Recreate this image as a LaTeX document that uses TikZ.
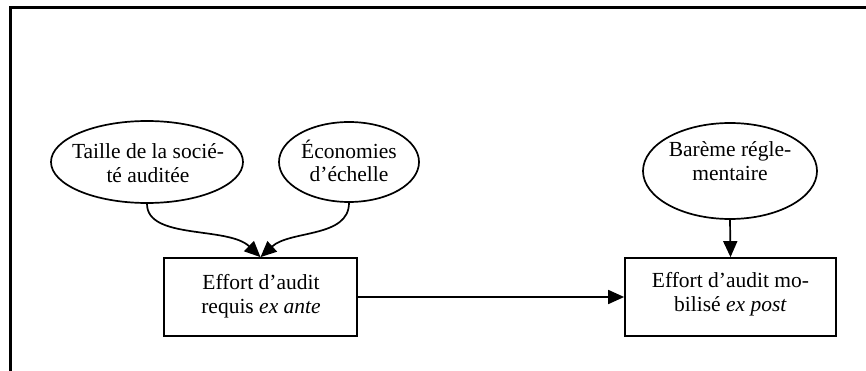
\documentclass[tikz,border=0pt]{standalone}
\usepackage{fontspec}
\setmainfont{Liberation Serif}
\usetikzlibrary{shapes.geometric,arrows.meta}
\begin{document}
\begin{tikzpicture}[x=1pt,y=-1pt,
  every node/.style={font=\fontsize{21.5}{23.5}\selectfont, align=center, inner sep=0pt},
  ell/.style={draw, line width=1.7pt, ellipse},
  box/.style={draw, line width=1.7pt, rectangle},
  arr/.style={line width=1.7pt, -{Triangle[length=16pt,width=14pt]}},
  frameline/.style={line width=2.8pt}]
\useasboundingbox (0,0) rectangle (866,371);
\draw[frameline] (10.5,371) -- (10.5,7.5) -- (866,7.5);
% ellipses
\node[ell, minimum width=192, minimum height=82] (tai) at (147,162) {};
\node at (148,163) {Taille de la socié-\\té auditée};
\node[ell, minimum width=140, minimum height=80] (eco) at (349,162) {};
\node at (349,161) {Économies\\d’échelle};
\node[ell, minimum width=174, minimum height=96] (bar) at (730,171) {};
\node (bart) at (730,161) {Barème régle-\\mentaire};
% boxes
\node[box, minimum width=193, minimum height=78] (b1) at (260.5,297) {};
\node at (261,296) {Effort d’audit\\requis \textit{ex ante}};
\node[box, minimum width=211, minimum height=78] (b2) at (730.5,297) {};
\node at (730.5,294) {Effort d’audit mo-\\bilisé \textit{ex post}};
% connectors
\draw[arr] (tai.south) .. controls (147,240) and (228,226) .. (b1.north);
\draw[arr] (eco.south) .. controls (349,238) and (290,230) .. (b1.north);
\draw[arr] (bar.south) -- (b2.north);
\draw[arr] (b1.east) -- (b2.west);
\end{tikzpicture}
\end{document}
